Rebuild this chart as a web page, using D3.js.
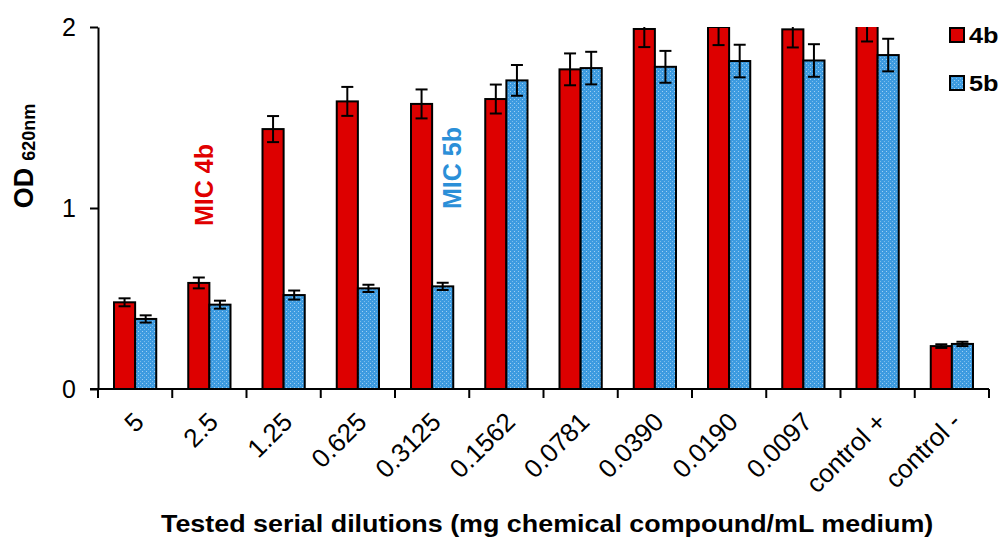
<!DOCTYPE html>
<html>
<head>
<meta charset="utf-8">
<script src="https://cdn.jsdelivr.net/npm/d3@7"></script>
<style>
  body { margin: 0; background: #fff; }
  text { font-family: "Liberation Sans", Arial, sans-serif; }
</style>
</head>
<body>
<div id="chart"></div>
<script>
var categories = ["5", "2.5", "1.25", "0.625", "0.3125", "0.1562", "0.0781", "0.0390", "0.0190", "0.0097", "control +", "control -"];
var series = ["4b", "5b"];
var values4b = [0.479, 0.586, 1.436, 1.589, 1.575, 1.602, 1.766, 1.989, 2.0, 1.987, 2.02, 0.237];
var errors4b = [0.022, 0.03, 0.072, 0.08, 0.08, 0.08, 0.088, 0.1, 0.1, 0.1, 0.1, 0.01];
var values5b = [0.387, 0.466, 0.519, 0.556, 0.567, 1.705, 1.773, 1.78, 1.812, 1.815, 1.845, 0.249];
var errors5b = [0.02, 0.022, 0.025, 0.02, 0.02, 0.085, 0.09, 0.088, 0.09, 0.09, 0.09, 0.012];
var yTicks = [0, 1, 2];

var margin = {top: 27, right: 14, bottom: 148, left: 98},
    width = 1003 - margin.left - margin.right,
    height = 537 - margin.top - margin.bottom;

var svg = d3.select("#chart").append("svg")
    .attr("width", 1003)
    .attr("height", 537);

var defs = svg.append("defs");

// dotted blue fill like the original
var pat = defs.append("pattern")
    .attr("id", "blueDots")
    .attr("patternUnits", "userSpaceOnUse")
    .attr("width", 4).attr("height", 4);
pat.append("rect").attr("width", 4).attr("height", 4).attr("fill", "#3d9be0");
pat.append("rect").attr("x", 0).attr("y", 0).attr("width", 1).attr("height", 1).attr("fill", "#9fd0f4");
pat.append("rect").attr("x", 2).attr("y", 2).attr("width", 1).attr("height", 1).attr("fill", "#7bbcec");

defs.append("clipPath").attr("id", "plotClip")
  .append("rect")
    .attr("x", -5).attr("y", 0)
    .attr("width", width + 10).attr("height", height + 5);

var g = svg.append("g")
    .attr("transform", "translate(" + margin.left + "," + margin.top + ")");

var x = d3.scaleBand().domain(categories).range([0, width]);
var xs = d3.scaleBand().domain(series).range([16, x.bandwidth() - 16]);
var y = d3.scaleLinear().domain([0, 2]).range([height, 0]);
var fills = {"4b": "#dd0000", "5b": "url(#blueDots)"};

var data = categories.map(function(c, i) {
  return [
    {cat: c, key: "4b", v: values4b[i], e: errors4b[i]},
    {cat: c, key: "5b", v: values5b[i], e: errors5b[i]}
  ];
});
var flat = [].concat.apply([], data);

var plot = g.append("g").attr("clip-path", "url(#plotClip)");

plot.selectAll("rect.bar")
  .data(flat)
  .enter().append("rect")
    .attr("class", "bar")
    .attr("x", function(d) { return x(d.cat) + xs(d.key); })
    .attr("y", function(d) { return y(d.v); })
    .attr("width", xs.bandwidth())
    .attr("height", function(d) { return height - y(d.v); })
    .attr("fill", function(d) { return fills[d.key]; })
    .attr("stroke", "#000")
    .attr("stroke-width", 2);

// error bars
var eb = plot.selectAll("g.err")
  .data(flat)
  .enter().append("g")
    .attr("class", "err")
    .attr("stroke", "#000")
    .attr("stroke-width", 2);

function cx(d) { return x(d.cat) + xs(d.key) + xs.bandwidth() / 2; }

eb.append("line")
    .attr("x1", cx).attr("x2", cx)
    .attr("y1", function(d) { return y(d.v + d.e); })
    .attr("y2", function(d) { return y(d.v - d.e); });
eb.append("line")
    .attr("x1", function(d) { return cx(d) - 6; })
    .attr("x2", function(d) { return cx(d) + 6; })
    .attr("y1", function(d) { return y(d.v + d.e); })
    .attr("y2", function(d) { return y(d.v + d.e); });
eb.append("line")
    .attr("x1", function(d) { return cx(d) - 6; })
    .attr("x2", function(d) { return cx(d) + 6; })
    .attr("y1", function(d) { return y(d.v - d.e); })
    .attr("y2", function(d) { return y(d.v - d.e); });

// y axis
var yAxis = g.append("g")
    .attr("class", "y-axis")
    .call(d3.axisLeft(y).tickValues(yTicks).tickFormat(d3.format("d")).tickSize(8).tickPadding(14).tickSizeOuter(0));
yAxis.selectAll("text")
    .attr("font-size", "25px")
    .attr("font-family", "Liberation Sans, Arial, sans-serif")
    .attr("fill", "#000");
yAxis.selectAll("line, path").attr("stroke", "#000").attr("stroke-width", 2);

// x axis: ticks at band boundaries
var xAxis = g.append("g").attr("class", "x-axis")
    .attr("transform", "translate(0," + height + ")");
xAxis.append("line")
    .attr("x1", -8).attr("x2", width)
    .attr("stroke", "#000").attr("stroke-width", 2);
xAxis.selectAll("line.tick")
  .data(categories.concat(["end"]))
  .enter().append("line")
    .attr("class", "tick")
    .attr("x1", function(d, i) { return i * x.step(); })
    .attr("x2", function(d, i) { return i * x.step(); })
    .attr("y1", 0).attr("y2", 9)
    .attr("stroke", "#000").attr("stroke-width", 2);

xAxis.selectAll("text.lab")
  .data(categories)
  .enter().append("text")
    .attr("class", "lab")
    .attr("transform", function(d) {
      return "translate(" + (x(d) + x.bandwidth() / 2 + 4) + ",28) rotate(-45)";
    })
    .attr("text-anchor", "end")
    .attr("dy", "0.35em")
    .attr("font-size", "26px")
    .text(function(d) { return d; });

// axis titles
svg.append("text")
    .attr("transform", "translate(161,532) scale(1.12,1)")
    .attr("font-size", "24px")
    .attr("font-weight", "bold")
    .text("Tested serial dilutions (mg chemical compound/mL medium)");

var yt = svg.append("text")
    .attr("transform", "translate(33,156) rotate(-90)")
    .attr("text-anchor", "middle")
    .attr("font-weight", "bold")
    .attr("font-size", "27px");
yt.append("tspan").text("OD");
yt.append("tspan").attr("font-size", "18px").attr("dx", 7).attr("dy", 2).text("620nm");

// MIC annotations
svg.append("text")
    .attr("transform", "translate(213,185) rotate(-90)")
    .attr("text-anchor", "middle")
    .attr("font-family", "Lato, sans-serif")
    .attr("font-weight", "bold")
    .attr("font-size", "25px")
    .attr("fill", "#e00000")
    .text("MIC 4b");
svg.append("text")
    .attr("transform", "translate(461,168) rotate(-90)")
    .attr("text-anchor", "middle")
    .attr("font-family", "Lato, sans-serif")
    .attr("font-weight", "bold")
    .attr("font-size", "25px")
    .attr("fill", "#2b8fd8")
    .text("MIC 5b");

// legend
var legend = svg.append("g").attr("transform", "translate(950,28)");
var li = legend.selectAll("g")
  .data(series)
  .enter().append("g")
    .attr("transform", function(d, i) { return "translate(0," + (i * 48) + ")"; });
li.append("rect")
    .attr("width", 14).attr("height", 14)
    .attr("fill", function(d) { return fills[d]; })
    .attr("stroke", "#000").attr("stroke-width", 2);
li.append("text")
    .attr("transform", "translate(19,15) scale(1.15,1)")
    .attr("font-size", "22px")
    .attr("font-weight", "bold")
    .text(function(d) { return d; });
</script>
</body>
</html>
